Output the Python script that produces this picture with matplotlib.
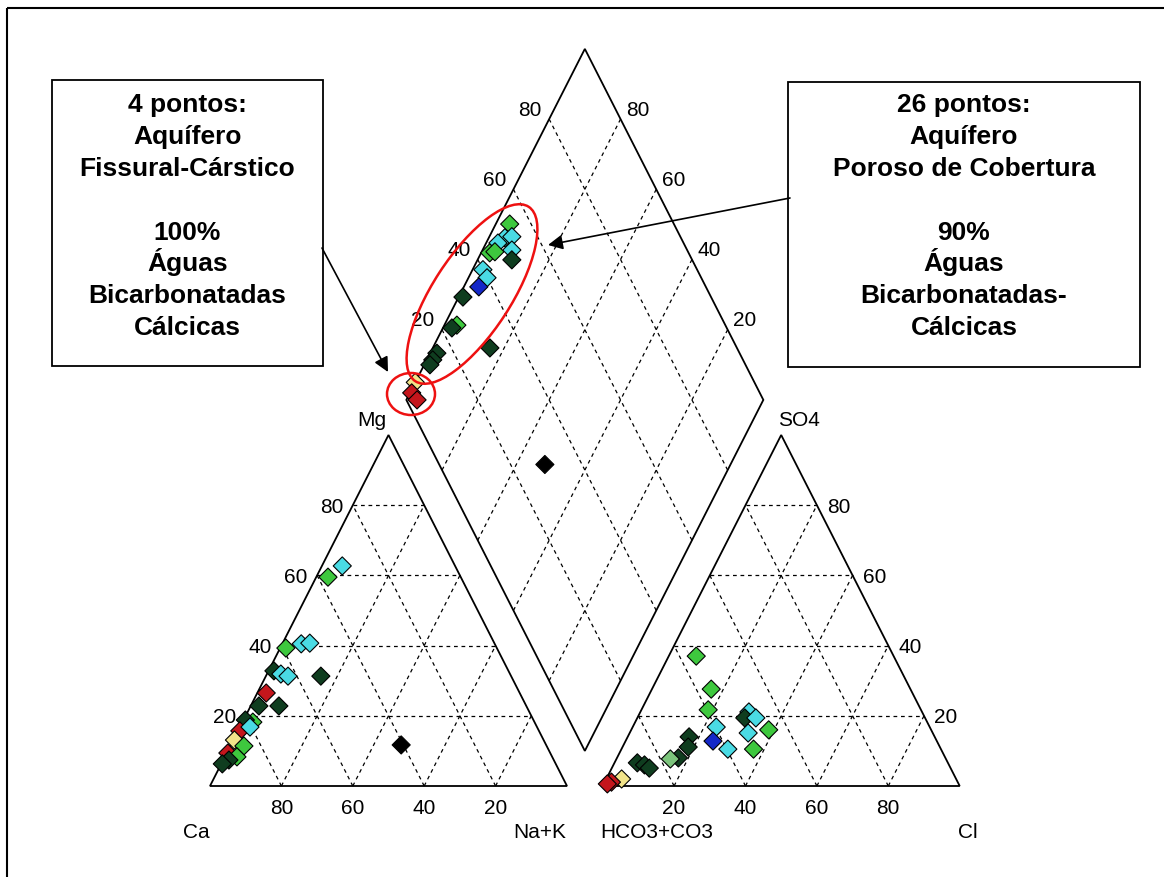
import numpy as np
import matplotlib.pyplot as plt
from matplotlib.patches import Polygon, Rectangle, Ellipse

plt.rcParams['font.family'] = ['Liberation Sans', 'DejaVu Sans']

# triangulo de cations: % Mg e % Na+K (Ca = resto)
cat_mg = [62.7, 59.5, 39.3, 40.5, 40.7, 32.8, 31.9, 31.3, 31.3, 26.5, 22.8, 22.8,
          11.7, 18.2, 18.8, 15.7, 16.8, 13.1, 11.4, 9.4, 8.3, 7.4, 6.3]
cat_nak = [5.7, 3.3, 1.6, 5.3, 7.6, 1.5, 3.9, 6.2, 15.4, 2.5, 2.3, 7.9,
           47.7, 2.9, 0.5, 0.5, 2.8, 0.3, 3.8, 0.3, 3.4, 1.6, 0.3]
cat_cor = ['cyan', 'green', 'green', 'cyan', 'cyan', 'dkgreen', 'cyan', 'cyan', 'dkgreen',
           'red', 'dkgreen', 'dkgreen', 'black', 'green', 'dkgreen', 'red', 'cyan',
           'yellow', 'green', 'red', 'green', 'dkgreen', 'dkgreen']

# triangulo de anions: % SO4 e % Cl (HCO3+CO3 = resto)
an_so4 = [37.0, 27.6, 21.7, 16.8, 12.8, 10.5, 14.0, 11.1, 8.0, 7.7, 6.6, 6.0, 5.1,
          2.0, 1.1, 0.6, 21.1, 19.4, 19.4, 15.1, 16.0, 10.5]
an_cl = [7.7, 16.6, 18.7, 23.4, 24.5, 29.8, 17.2, 18.4, 17.2, 15.1, 6.4, 8.7, 10.5,
         4.3, 1.9, 1.0, 30.4, 30.1, 33.2, 33.2, 38.5, 37.0]
an_cor = ['green', 'green', 'green', 'cyan', 'blue', 'cyan', 'dkgreen', 'dkgreen', 'dkgreen',
          'ltgreen', 'dkgreen', 'dkgreen', 'dkgreen', 'yellow', 'red', 'red', 'cyan',
          'dkgreen', 'cyan', 'cyan', 'green', 'green']

# losango: % Na+K e % (Cl+SO4)
dia_nak = [3.9, 4.5, 6.3, 3.3, 2.4, 3.7, 8.2, 9.6, 2.9, 5.2, 4.2, 1.2, 3.5, 2.5,
           16.0, 1.9, 1.7, 1.6, 0.0, 0.5, 3.0, 48.0]
dia_clso4 = [54.0, 50.7, 52.8, 48.0, 44.3, 45.9, 50.9, 49.5, 40.0, 40.0, 36.4, 30.5,
             24.8, 23.0, 30.8, 15.2, 13.1, 11.6, 5.0, 2.5, 3.0, 29.6]
dia_cor = ['green', 'cyan', 'cyan', 'cyan', 'green', 'green', 'cyan', 'dkgreen', 'cyan',
           'cyan', 'blue', 'dkgreen', 'green', 'dkgreen', 'dkgreen', 'dkgreen', 'dkgreen',
           'dkgreen', 'yellow', 'red', 'red', 'black']

cores = {'red': '#c4161c', 'yellow': '#f2e48a', 'dkgreen': '#0f3d1f', 'green': '#3ec83e',
         'ltgreen': '#7cc47c', 'cyan': '#4adbe4', 'blue': '#1428c8', 'black': '#000000'}

ticks = [20, 40, 60, 80]

box_esq = ['4 pontos:', 'Aquífero', 'Fissural-Cárstico', '', '100%', 'Águas',
           'Bicarbonatadas', 'Cálcicas']
box_dir = ['26 pontos:', 'Aquífero', 'Poroso de Cobertura', '', '90%', 'Águas',
           'Bicarbonatadas-', 'Cálcicas']

H = np.sqrt(3) / 2
OFF = 0.1
PX = 357.0        # pixels por unidade x
PY = 351.0 / H    # pixels por unidade y


def cat_xy(mg, nak):
    mg = np.asarray(mg) / 100
    nak = np.asarray(nak) / 100
    return nak + mg / 2, mg * H


def an_xy(so4, cl):
    so4 = np.asarray(so4) / 100
    cl = np.asarray(cl) / 100
    return 1 + OFF + cl + so4 / 2, so4 * H


def dia_xy(nak, clso4):
    a = 1 - np.asarray(nak) / 100
    b = np.asarray(clso4) / 100
    return 1 + OFF / 2 + 0.5 * (b - a), OFF * H + H * (a + b)


fig = plt.figure(figsize=(11.64, 8.77), dpi=100)
ax = fig.add_axes([0, 0, 1, 1])
ax.set_xlim(-210 / PX, (1164 - 210) / PX)
ax.set_ylim(-(877 - 786) / PY, 786 / PY)
ax.axis('off')

lw_borda = 1.3
grid = dict(color='black', lw=0.9, ls=(0, (3, 3)))

# contornos
tri_esq = [cat_xy(0, 0), cat_xy(0, 100), cat_xy(100, 0)]
tri_dir = [an_xy(0, 0), an_xy(0, 100), an_xy(100, 0)]
losango = [dia_xy(100, 0), dia_xy(0, 0), dia_xy(0, 100), dia_xy(100, 100)]
for pts in (tri_esq, tri_dir, losango):
    ax.add_patch(Polygon(pts, closed=True, fill=False, ec='black', lw=lw_borda))

# grades
for v in ticks:
    # cations
    ax.plot(*zip(cat_xy(v, 0), cat_xy(v, 100 - v)), **grid)
    ax.plot(*zip(cat_xy(0, v), cat_xy(100 - v, v)), **grid)
    ax.plot(*zip(cat_xy(0, 100 - v), cat_xy(100 - v, 0)), **grid)
    # anions
    ax.plot(*zip(an_xy(v, 0), an_xy(v, 100 - v)), **grid)
    ax.plot(*zip(an_xy(0, v), an_xy(100 - v, v)), **grid)
    ax.plot(*zip(an_xy(0, 100 - v), an_xy(100 - v, 0)), **grid)
    # losango
    ax.plot(*zip(dia_xy(v, 0), dia_xy(v, 100)), **grid)
    ax.plot(*zip(dia_xy(0, v), dia_xy(100, v)), **grid)

# rotulos dos eixos
fs = 15
lab = dict(textcoords='offset pixels', ha='center', va='center', fontsize=fs)
for v in ticks:
    ax.annotate(str(v), cat_xy(v, 0), xytext=(-21, -2), **lab)
    ax.annotate(str(v), cat_xy(0, 100 - v), xytext=(0, -22), **lab)
    ax.annotate(str(v), an_xy(0, v), xytext=(0, -22), **lab)
    ax.annotate(str(v), an_xy(v, 100 - v), xytext=(22, -2), **lab)
    ax.annotate(str(v), dia_xy(0, v), xytext=(-19, 9), **lab)
    ax.annotate(str(v), dia_xy(100 - v, 100), xytext=(17, 9), **lab)

ax.annotate('Ca', cat_xy(0, 0), xytext=(-14, -46), **lab)
ax.annotate('Na+K', cat_xy(0, 100), xytext=(-27, -46), **lab)
ax.annotate('Mg', cat_xy(100, 0), xytext=(-17, 15), **lab)
ax.annotate('HCO3+CO3', an_xy(0, 0), xytext=(54, -46), **lab)
ax.annotate('Cl', an_xy(0, 100), xytext=(8, -46), **lab)
ax.annotate('SO4', an_xy(100, 0), xytext=(18, 15), **lab)

# pontos
mk = dict(marker='D', s=85, edgecolors='black', linewidths=0.8, zorder=5)
ax.scatter(*cat_xy(cat_mg, cat_nak), c=[cores[c] for c in cat_cor], **mk)
ax.scatter(*an_xy(an_so4, an_cl), c=[cores[c] for c in an_cor], **mk)
ax.scatter(*dia_xy(dia_nak, dia_clso4), c=[cores[c] for c in dia_cor], **mk)

# anotacoes em pixels
ax2 = fig.add_axes([0, 0, 1, 1], facecolor='none')
ax2.set_xlim(0, 1164)
ax2.set_ylim(877, 0)
ax2.axis('off')

ax2.add_patch(Rectangle((7, 8), 1170, 900, fill=False, ec='black', lw=1.5))
ax2.add_patch(Rectangle((52, 80), 271, 286, fill=False, ec='black', lw=1.3))
ax2.add_patch(Rectangle((788, 82), 352, 285, fill=False, ec='black', lw=1.3))

for i, t in enumerate(box_esq):
    ax2.text(187.5, 112 + i * 31.9, t, ha='center', va='baseline', fontsize=19,
             fontweight='bold')
for i, t in enumerate(box_dir):
    ax2.text(964, 112 + i * 31.9, t, ha='center', va='baseline', fontsize=19,
             fontweight='bold')

ax2.add_patch(Ellipse((472, 294), 208, 78, angle=-57, fill=False, ec='#ee1111', lw=1.8))
ax2.add_patch(Ellipse((411, 394), 48, 42, fill=False, ec='#ee1111', lw=1.8))

seta = dict(arrowstyle='-|>', color='black', lw=1.2, mutation_scale=22, shrinkA=0, shrinkB=0)
ax2.annotate('', xy=(388, 372), xytext=(322, 248), arrowprops=seta)
ax2.annotate('', xy=(548, 245), xytext=(790, 198), arrowprops=seta)

fig.savefig('out.png', dpi=100)
